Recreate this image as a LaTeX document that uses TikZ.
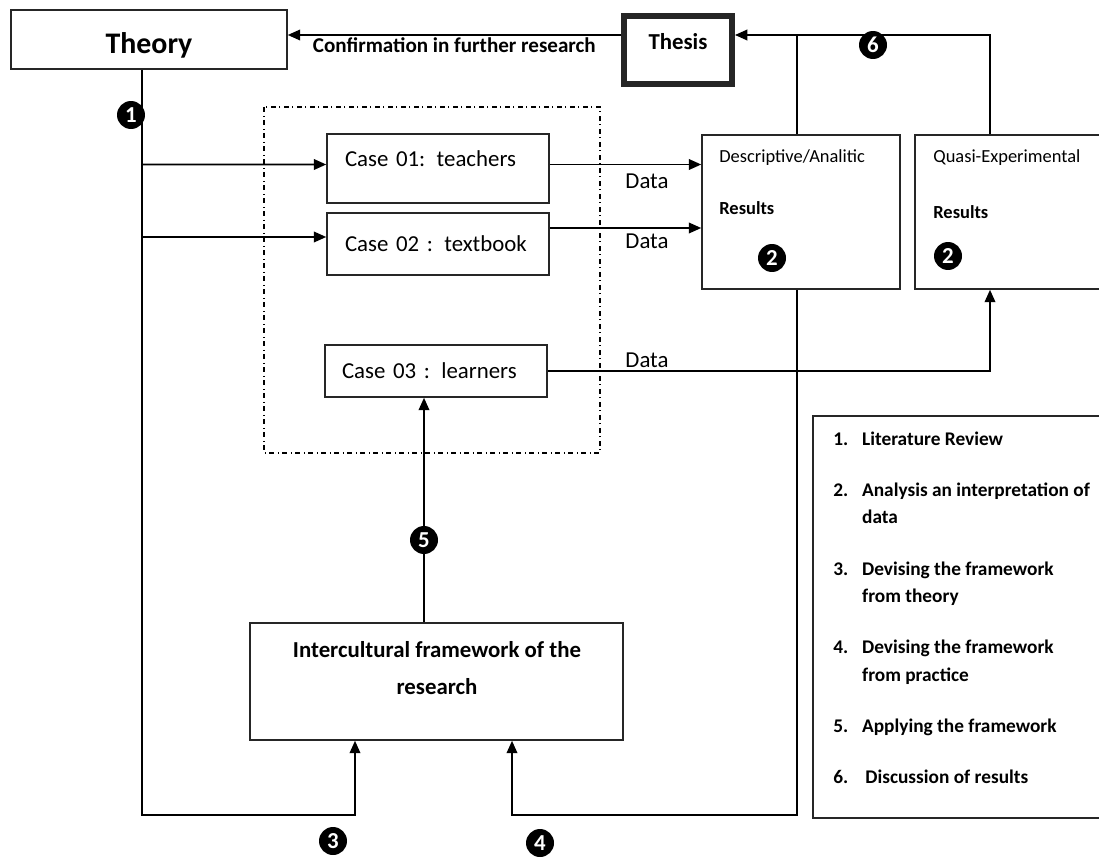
\documentclass[tikz,border=0pt]{standalone}
\usepackage{fontspec}
\setmainfont{Carlito}
\usetikzlibrary{arrows.meta}

\begin{document}
\begin{tikzpicture}[x=0.02cm,y=-0.02cm,
  box/.style={draw=black!85,line width=0.9pt,inner sep=0pt},
  arr/.style={line width=1pt,-{Triangle[length=7pt,width=6pt]}},
  conn/.style={line width=1pt},
  num/.style={circle,fill=black,text=white,inner sep=0pt,minimum size=0.56cm,font=\bfseries\fontsize{13}{13}\selectfont},
  lbl/.style={font=\fontsize{13}{15}\selectfont,inner sep=0pt},
  small/.style={anchor=west,inner sep=0pt,font=\fontsize{10.5}{12}\selectfont}]
\clip (0,0) rectangle (1099,858);

% boxes
\node[box,minimum width=5.52cm,minimum height=1.18cm,text height=0.65cm,font=\bfseries\fontsize{17}{20}\selectfont] (theory) at (149,39.5) {Theory};
\node[box,line width=3.4pt,minimum width=2.16cm,minimum height=1.36cm] (thesis) at (678,50) {};
\node[font=\bfseries\fontsize{13}{15}\selectfont] (thesislbl) at (678,42) {Thesis};

\node[box,lbl,minimum width=4.44cm,minimum height=1.38cm,text width=3.72cm,text depth=0.4cm,align=left] (case1) at (438,168.5) {Case 01: teachers};
\node[box,lbl,minimum width=4.44cm,minimum height=1.24cm,text width=3.72cm,align=left] (case2) at (438,244) {Case 02 : textbook};
\node[box,lbl,minimum width=4.44cm,minimum height=1.04cm,text width=3.76cm,align=left] (case3) at (436,371) {Case 03 : learners};
\draw[dash dot,line width=0.7pt] (264,107) rectangle (600,453);

\node[box,minimum width=3.96cm,minimum height=3.08cm] (desc) at (801,212) {};
\node[small] (desclbl) at (719,158) {Descriptive/Analitic};
\node[small,font=\bfseries\fontsize{10.5}{12}\selectfont] (descres) at (719,208) {Results};
\node[box,minimum width=3.9cm,minimum height=3.08cm] (quasi) at (1012.5,212) {};
\node[small] (quasilbl) at (933,158) {Quasi-Experimental};
\node[small,font=\bfseries\fontsize{10.5}{12}\selectfont] (quasires) at (933,212) {Results};

\node[box,minimum width=7.46cm,minimum height=2.34cm] (frame) at (436.5,681.5) {};
\node[align=center,font=\bfseries\fontsize{13}{21.5}\selectfont] (framelbl) at (437,668) {Intercultural framework of the\\research};

% legend
\node[box,minimum width=5.94cm,minimum height=8.04cm] (legend) at (961.5,617) {};
\node[anchor=base west,inner sep=0pt,font=\bfseries\fontsize{11}{15.6}\selectfont] (legendtxt) at (833,445) {%
\begin{tabular}[t]{@{}p{16.4pt}@{}l@{}}
1. & Literature Review\\[13.6pt]
2. & Analysis an interpretation of\\
   & data\\[13.6pt]
3. & Devising the framework\\
   & from theory\\[13.6pt]
4. & Devising the framework\\
   & from practice\\[13.6pt]
5. & Applying the framework\\[13.6pt]
6. & \,Discussion of results
\end{tabular}};

% connectors
\coordinate (bl) at (142,815);
\coordinate (br) at (355,815);
\coordinate (d) at (797,35);
\coordinate (q) at (990,35);
\coordinate (dl) at (797,815);
\coordinate (dr) at (512,815);
\coordinate (m) at (424,540);

\draw[arr] (bl |- theory.south) -- (bl) -- (br) -- (br |- frame.south);
\draw[arr] (bl |- case1.west) ++(0,-4) -- ([yshift=0.08cm]case1.west);
\draw[arr] (bl |- case2.west) ++(0,-7) -- ([yshift=0.14cm]case2.west);
\draw[arr] ([yshift=0.08cm]case1.east) -- ([yshift=0.08cm]case1.east -| desc.west);
\draw[arr] ([yshift=0.32cm]case2.east) -- ([yshift=0.32cm]case2.east -| desc.west);
\draw[arr] (case3.east) -| (q |- quasi.south);
\draw[arr] (q |- quasi.north) -- (q) -- (q -| thesis.east);
\draw[conn] (d |- desc.north) -- (d);
\draw[arr] (d |- desc.south) -- (dl) -- (dr) -- (dr |- frame.south);
\draw[arr] (q -| thesis.west) -- (q -| theory.east)
  node[midway,below,inner sep=1pt,font=\bfseries\fontsize{12}{14}\selectfont] (confirm) {Confirmation in further research};
\draw[arr] (m |- frame.north) -- (m |- case3.south);

\node[lbl] (data1) at (647,181) {Data};
\node[lbl] (data2) at (647,241) {Data};
\node[lbl] (data3) at (647,360) {Data};

% step numbers
\node[num] (n1) at (131,115) {1};
\node[num] (n2a) at (772,258) {2};
\node[num] (n2b) at (948,256) {2};
\node[num] (n3) at (333,841) {3};
\node[num] (n4) at (540,843) {4};
\node[num] (n5) at (424,540) {5};
\node[num] (n6) at (873,45) {6};
\end{tikzpicture}
\end{document}
